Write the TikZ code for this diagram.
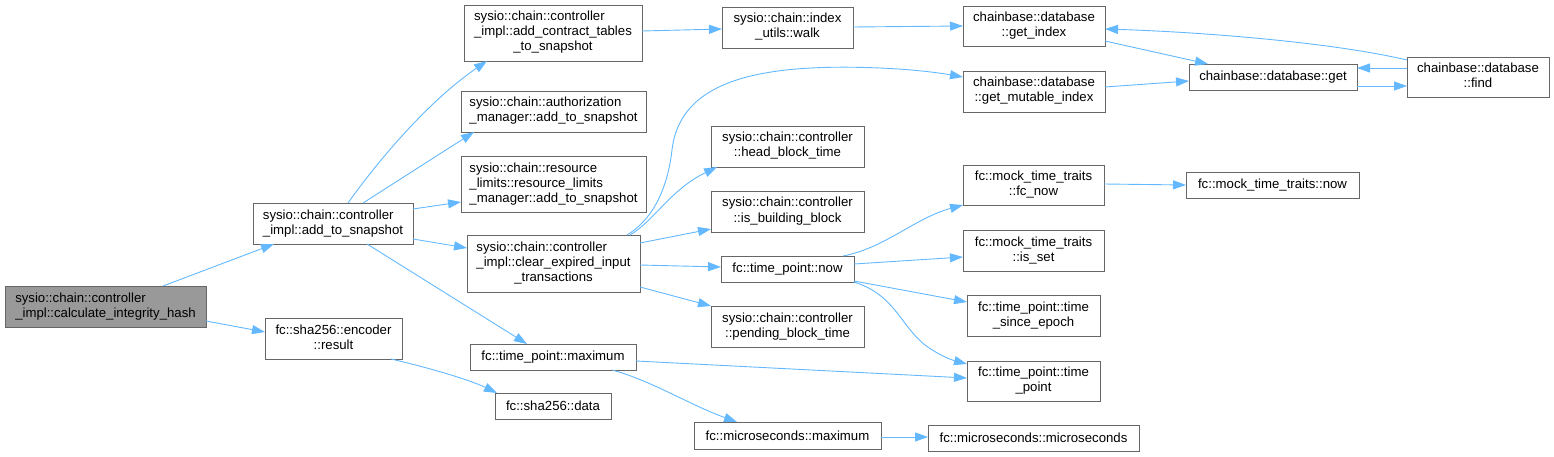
\documentclass[tikz,border=0pt]{standalone}
\usepackage{fontspec}
\setmainfont{Liberation Sans}
\usetikzlibrary{arrows.meta}
\definecolor{edgeblue}{HTML}{63B8FF}
\definecolor{boxline}{HTML}{666666}
\definecolor{rootfill}{HTML}{999999}
\newcommand\lns[1]{\begin{tabular}{@{}l@{}}#1\end{tabular}}
\newcommand\lastc[1]{\multicolumn{1}{@{}c@{}}{#1}}
\newcommand\gnode[7][]{\node[gbox,#1,minimum width={#5-#3},minimum height={#6-#4}] (#2) at ({(#3+#5)/2},{(#4+#6)/2}) {#7};}
\tikzset{
  gbox/.style={draw=boxline, line width=0.9pt, fill=white, inner sep=0pt, outer sep=0pt,
    font=\fontsize{13.2}{15}\selectfont, text=black},
  rootbox/.style={fill=rootfill},
  edge/.style={draw=edgeblue, line width=0.9pt, -{Triangle[length=13pt,width=9pt]}, fill=none}
}
\begin{document}
\begin{tikzpicture}[x=1pt,y=-1pt]
\useasboundingbox (0,0) rectangle (1554,457);
% nodes
\gnode[rootbox]{A}{5}{286}{206}{327}{\lns{sysio::chain::controller\\\lastc{\_impl::calculate\_integrity\_hash}}}
\gnode{B}{253}{203}{413}{244}{\lns{sysio::chain::controller\\\lastc{\_impl::add\_to\_snapshot}}}
\gnode{C}{265}{318}{402}{359}{\lns{fc::sha256::encoder\\\lastc{::result}}}
\gnode{D}{464}{5}{642}{61}{\lns{sysio::chain::controller\\\_impl::add\_contract\_tables\\\lastc{\_to\_snapshot}}}
\gnode{E}{461}{91}{646}{132}{\lns{sysio::chain::authorization\\\lastc{\_manager::add\_to\_snapshot}}}
\gnode{F}{461}{156}{646}{212}{\lns{sysio::chain::resource\\\_limits::resource\_limits\\\lastc{\_manager::add\_to\_snapshot}}}
\gnode{G}{467}{235}{640}{292}{\lns{sysio::chain::controller\\\_impl::clear\_expired\_input\\\lastc{\_transactions}}}
\gnode{H}{470}{344}{636}{370}{fc::time\_point::maximum}
\gnode{I}{495}{393}{611}{419}{fc::sha256::data}
\gnode{J}{722}{7}{853}{48}{\lns{sysio::chain::index\\\lastc{\_utils::walk}}}
\gnode{K}{711}{126}{864}{167}{\lns{sysio::chain::controller\\\lastc{::head\_block\_time}}}
\gnode{L}{711}{191}{864}{232}{\lns{sysio::chain::controller\\\lastc{::is\_building\_block}}}
\gnode{M}{721}{256}{854}{282}{fc::time\_point::now}
\gnode{N}{711}{306}{864}{347}{\lns{sysio::chain::controller\\\lastc{::pending\_block\_time}}}
\gnode{O}{694}{422}{881}{449}{fc::microseconds::maximum}
\gnode{P}{963}{6}{1105}{46}{\lns{chainbase::database\\\lastc{::get\_index}}}
\gnode{Q}{963}{71}{1105}{112}{\lns{chainbase::database\\\lastc{::get\_mutable\_index}}}
\gnode{R}{963}{165}{1104}{205}{\lns{fc::mock\_time\_traits\\\lastc{::fc\_now}}}
\gnode{S}{963}{230}{1104}{271}{\lns{fc::mock\_time\_traits\\\lastc{::is\_set}}}
\gnode{T}{967}{295}{1100}{336}{\lns{fc::time\_point::time\\\lastc{\_since\_epoch}}}
\gnode{U}{967}{361}{1100}{401}{\lns{fc::time\_point::time\\\lastc{\_point}}}
\gnode{V}{928}{425}{1139}{451}{fc::microseconds::microseconds}
\gnode{W}{1189}{64}{1357}{90}{chainbase::database::get}
\gnode{X}{1407}{57}{1549}{97}{\lns{chainbase::database\\\lastc{::find}}}
\gnode{Y}{1186}{172}{1359}{198}{fc::mock\_time\_traits::now}
% edges
\draw[edge] ([xshift=158pt]A.north west) -- ([xshift=21pt]B.south west);
\draw[edge] ([yshift=-35pt]A.north east) -- ([yshift=-14pt]C.north west);
\draw[edge] ([xshift=95pt]B.north west) .. controls (380,158) and (430,100) .. ([xshift=23pt]D.south west);
\draw[edge] ([xshift=110pt]B.north west) -- ([xshift=13pt]E.south west);
\draw[edge] ([yshift=-6pt]B.north east) -- ([yshift=-46pt]F.north west);
\draw[edge] ([yshift=-36pt]B.north east) -- ([yshift=-13pt]G.north west);
\draw[edge] ([xshift=114pt]B.south west) -- ([xshift=57pt]H.north west);
\draw[edge] ([xshift=126pt]C.south west) .. controls (430,368) and (470,380) .. ([xshift=2pt]I.north west);
\draw[edge] ([yshift=-26pt]D.north east) -- ([yshift=-22pt]J.north west);
\draw[edge] ([yshift=-20pt]J.north east) -- ([yshift=-20pt]P.north west);
\draw[edge] ([xshift=160pt]G.north west) .. controls (655,218) and (668,185) .. (672,150)
  .. controls (680,80) and (760,63) .. (880,68) .. controls (915,69.5) and (940,73) .. ([yshift=-6pt]Q.north west);
\draw[edge] ([xshift=163pt]G.north west) .. controls (655,220) and (670,190) .. ([xshift=6pt]K.south west);
\draw[edge] ([yshift=-8pt]G.north east) -- ([yshift=-38pt]L.north west);
\draw[edge] ([yshift=-30pt]G.north east) -- ([yshift=-11pt]M.north west);
\draw[edge] ([yshift=-52pt]G.north east) -- (N.north west);
\draw[edge] ([yshift=-17pt]H.north east) -- ([yshift=-17pt]U.north west);
\draw[edge] ([xshift=142pt]H.south west) .. controls (650,380) and (690,405) .. ([xshift=43pt]O.north west);
\draw[edge] ([yshift=-15pt]O.north east) -- ([yshift=-12pt]V.north west);
\draw[edge] ([yshift=-35pt]P.north east) -- ([xshift=19pt]W.north west);
\draw[edge] ([yshift=-16pt]Q.north east) -- ([yshift=-17pt]W.north west);
\draw[edge] ([yshift=-22pt]W.north east) -- ([yshift=-29pt]X.north west);
\draw[edge] ([yshift=-11pt]X.north west) -- ([yshift=-4pt]W.north east);
\draw[edge] ([yshift=-3pt]X.north west) .. controls (1330,42) and (1200,32) .. ([yshift=-23pt]P.north east);
\draw[edge] ([xshift=122pt]M.north west) .. controls (885,248) and (915,218) .. (R.south west);
\draw[edge] ([yshift=-8pt]M.north east) -- ([yshift=-27pt]S.north west);
\draw[edge] ([yshift=-25pt]M.north east) -- ([yshift=-7pt]T.north west);
\draw[edge] (M.south east) .. controls (895,295) and (900,325) .. (925,345)
  .. controls (940,356) and (952,360) .. ([yshift=-3pt]U.north west);
\draw[edge] ([yshift=-19pt]R.north east) -- ([yshift=-13pt]Y.north west);
\end{tikzpicture}
\end{document}
